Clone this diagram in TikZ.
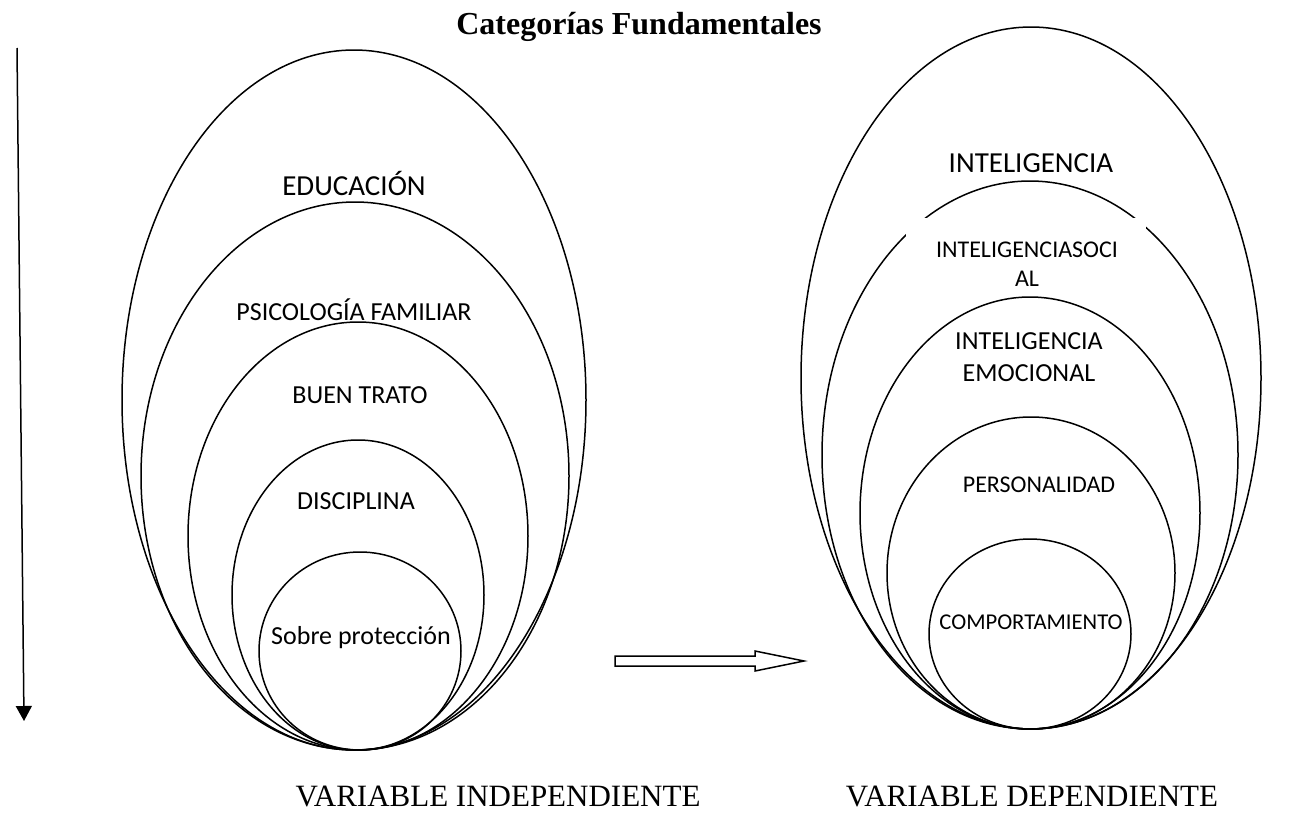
\documentclass[tikz,border=0pt]{standalone}
\usepackage{fontspec}
\setmainfont{Liberation Serif}
\newfontfamily\carlito{Carlito}
\usetikzlibrary{arrows.meta}

\begin{document}
\begin{tikzpicture}[x=0.5pt,y=-0.5pt,line width=0.75pt,
  cat/.style={font=\carlito\fontsize{13}{16}\selectfont,inner sep=0pt,align=center},
  catbig/.style={cat,font=\carlito\fontsize{14.5}{17}\selectfont},
  catsmall/.style={cat,font=\carlito\fontsize{12}{14.5}\selectfont},
  varlbl/.style={font=\fontsize{15.5}{18}\selectfont,anchor=base,inner sep=0pt}]

\useasboundingbox (0,0) rectangle (1313,814);

% title
\node[font=\bfseries\fontsize{16}{19}\selectfont,anchor=base,inner sep=0pt] (titulo) at (639,34) {Categorías Fundamentales};

% vertical arrow
\coordinate (arriba) at (17,48);
\coordinate (abajo) at (24,721);
\draw[-{Triangle[length=7.5pt,width=8pt]}] (arriba) -- (abajo);

% independent variable
\draw (354,400) ellipse [x radius=232, y radius=350];
\draw (355,476) ellipse [x radius=214, y radius=274];
\draw (358,536) ellipse [x radius=170, y radius=214];
\draw (358,595) ellipse [x radius=126, y radius=155];
\draw (360,651) ellipse [x radius=101, y radius=99];

\node[catbig] (educacion) at (354,183) {EDUCACIÓN};
\node[cat] (psicologia) at (354,310) {PSICOLOGÍA FAMILIAR};
\node[cat] (buentrato) at (360,395) {BUEN TRATO};
\node[cat] (disciplina) at (356,501) {DISCIPLINA};
\node[cat] (sobreprot) at (361,638) {Sobre protección};

% hollow arrow
\draw (615,656) -- (755,656) -- (755,651) -- (804,661) -- (755,671) -- (755,666) -- (615,666) -- cycle;

% dependent variable
\draw (1031,378) ellipse [x radius=230, y radius=351];
\draw (1030,455) ellipse [x radius=208, y radius=274];
\draw (1030,513) ellipse [x radius=170, y radius=216];
\draw (1031,573) ellipse [x radius=144, y radius=156];
\draw (1030,634) ellipse [x radius=101, y radius=95];

\fill[white] (906,218) rectangle (1146,292);

\node[catbig] (inteligencia) at (1031,163) {INTELIGENCIA};
\node[catsmall] (social) at (1027,264) {INTELIGENCIASOCI\\AL};
\node[cat] (emocional) at (1029,357) {INTELIGENCIA\\EMOCIONAL};
\node[catsmall] (personalidad) at (1039,485) {PERSONALIDAD};
\node[cat,font=\carlito\fontsize{11.3}{14}\selectfont] (comportamiento) at (1031,622) {COMPORTAMIENTO};

% captions
\node[varlbl] (vind) at (498,806) {VARIABLE INDEPENDIENTE};
\node[varlbl] (vdep) at (1032,806) {VARIABLE DEPENDIENTE};

\end{tikzpicture}
\end{document}
